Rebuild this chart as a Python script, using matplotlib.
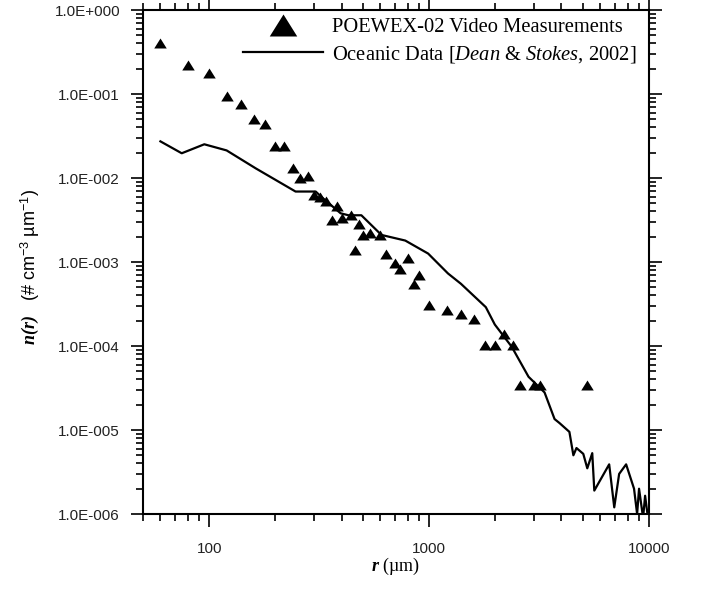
import numpy as np
import matplotlib
matplotlib.use('Agg')
import matplotlib.pyplot as plt
from matplotlib.ticker import LogLocator, FuncFormatter, NullFormatter

# POEWEX-02 video measurements (triangles)
r_video = [60, 80, 100, 120, 140, 160, 180, 200, 220, 240, 260, 280, 300, 320, 340,
           360, 380, 400, 440, 460, 480, 500, 540, 600, 640, 700, 740, 800, 850, 900,
           1000, 1200, 1400, 1600, 1800, 2000, 2200, 2400, 2600, 3000, 3200, 5200]
n_video = [0.40, 0.22, 0.18, 0.095, 0.077, 0.050, 0.044, 0.024, 0.024, 0.013, 0.010,
           0.0107, 0.0062, 0.0059, 0.0053, 0.0032, 0.0046, 0.0033, 0.0036, 0.0014,
           0.0028, 0.0021, 0.0022, 0.0021, 0.00126, 0.00098, 0.00083, 0.00113, 0.00055,
           0.0007, 0.00031, 0.00027, 0.00024, 0.00021, 0.000103, 0.000103, 0.00014,
           0.000103, 3.4e-5, 3.4e-5, 3.4e-5, 3.4e-5]

# Oceanic data, Dean & Stokes 2002 (solid line)
r_ocean = [60, 75, 95, 120, 163, 247, 305, 325, 396, 430, 492, 607, 779, 990, 1219,
           1396, 1811, 1990, 2375, 2833, 3350, 3720, 3917, 4345, 4530, 4680, 5025,
           5240, 5520, 5640, 6590, 6950, 7315, 7870, 8550, 8830, 9010, 9400, 9600, 9950]
n_ocean = [0.0273, 0.0197, 0.0252, 0.0213, 0.0130, 0.0069, 0.0069, 0.0059, 0.0038,
           0.0036, 0.0036, 0.0021, 0.0018, 0.00126, 0.00073, 0.00055, 0.00029, 0.00018,
           9.8e-5, 4.3e-5, 2.8e-5, 1.35e-5, 1.21e-5, 9.5e-6, 5.0e-6, 6.1e-6, 5.2e-6,
           3.5e-6, 5.3e-6, 1.9e-6, 3.9e-6, 1.2e-6, 3.0e-6, 3.9e-6, 2.0e-6, 1.0e-6,
           2.0e-6, 9e-7, 1.65e-6, 8e-7]

video_label = 'POEWEX-02 Video Measurements'
ocean_label = r'Oceanic Data [$\mathit{Dean}$ & $\mathit{Stokes}$, 2002]'

plt.rcParams['font.family'] = 'Liberation Sans'
plt.rcParams['mathtext.fontset'] = 'custom'
plt.rcParams['mathtext.rm'] = 'Liberation Serif'
plt.rcParams['mathtext.it'] = 'Liberation Serif:italic'
plt.rcParams['mathtext.bf'] = 'Liberation Serif:bold'
plt.rcParams['mathtext.bfit'] = 'Liberation Serif:italic:bold'
plt.rcParams['mathtext.sf'] = 'Liberation Sans'

# slightly flattened triangle, like the original plotting program
flat_tri = [(-1, -0.8), (1, -0.8), (0, 0.8), (-1, -0.8)]

fig = plt.figure(figsize=(7.02, 5.89), dpi=100)
ax = fig.add_axes([143 / 702, 1 - 514 / 589, 506 / 702, 504 / 589])

line, = ax.plot(r_ocean, n_ocean, color='black', lw=1.6)
tri, = ax.plot(r_video, n_video, linestyle='none', marker=flat_tri, ms=9,
               color='black', markeredgewidth=0)

ax.set_xscale('log')
ax.set_yscale('log')
ax.set_xlim(50, 10000)
ax.set_ylim(1e-6, 1)

# ticks on all four sides, pointing out
ax.xaxis.set_major_locator(LogLocator(base=10, numticks=20))
ax.xaxis.set_minor_locator(LogLocator(base=10, subs=np.arange(2, 10), numticks=100))
ax.yaxis.set_major_locator(LogLocator(base=10, numticks=20))
ax.yaxis.set_minor_locator(LogLocator(base=10, subs=np.arange(2, 10), numticks=100))
ax.xaxis.set_major_formatter(FuncFormatter(lambda v, p: '%d' % round(v)))
ax.yaxis.set_major_formatter(FuncFormatter(lambda v, p: '1.0E%+04d' % round(np.log10(v))))
ax.xaxis.set_minor_formatter(NullFormatter())
ax.yaxis.set_minor_formatter(NullFormatter())

ax.tick_params(which='both', direction='out', top=True, right=True, width=1.2,
               labelsize=11, labelcolor='#222222')
ax.tick_params(which='major', length=9)
ax.tick_params(which='minor', length=5)
ax.tick_params(axis='x', which='major', pad=11)
ax.tick_params(axis='y', which='major', pad=7.5)
for s in ax.spines.values():
    s.set_linewidth(1.5)

# legend in the upper right corner
ax.legend([tri, line], [video_label, ocean_label], loc='upper left',
          bbox_to_anchor=(243 / 702, 1 - 18 / 589), bbox_transform=fig.transFigure,
          frameon=False, borderpad=0, borderaxespad=0, handlelength=3.9,
          handletextpad=0.45, labelspacing=0.3, markerscale=2.2,
          prop={'family': 'Liberation Serif', 'size': 14.8})

# axis titles
fig.text(396 / 702, 1 - 566 / 589, r'$\mathbfit{r}$ (µm)', ha='center', va='center',
         fontsize=13, family='Liberation Serif')
fig.text(30 / 702, 1 - 267 / 589,
         r'$\mathbfit{n(r)}$   (# cm$^{\mathsf{-3}}$ µm$^{\mathsf{-1}}$)',
         rotation=90, ha='center', va='center', fontsize=13)

fig.savefig('out.png', dpi=100)
